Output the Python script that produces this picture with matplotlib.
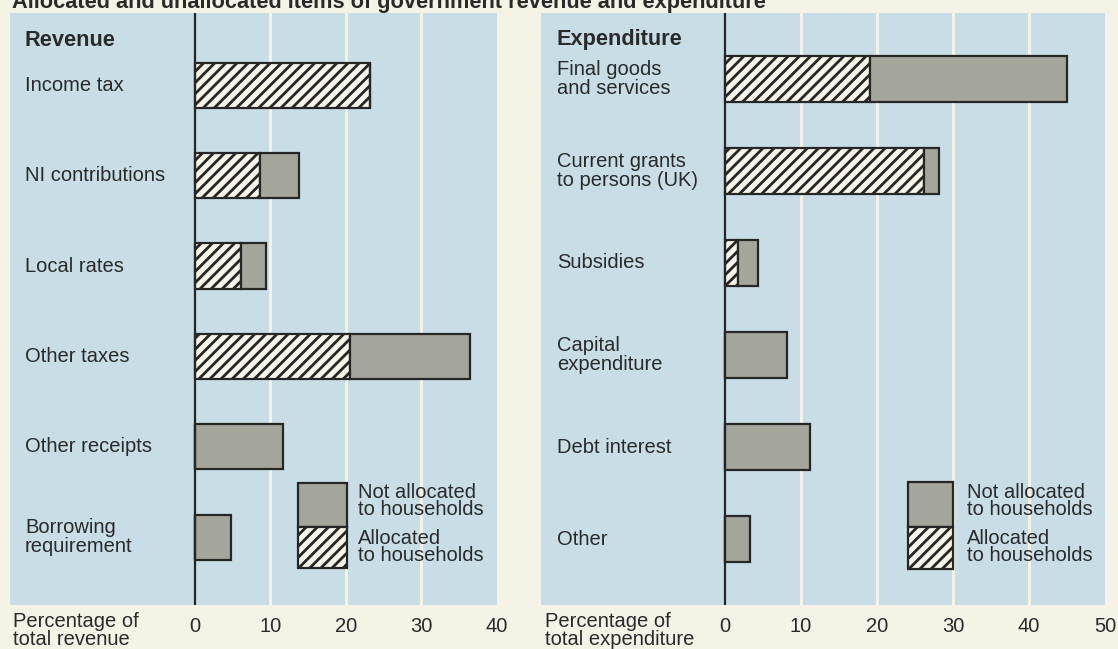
import matplotlib
matplotlib.use("Agg")
import matplotlib.pyplot as plt
from matplotlib.patches import Rectangle
import matplotlib.transforms as mtransforms

plt.rcParams['font.family'] = ['Liberation Sans', 'DejaVu Sans']
plt.rcParams['hatch.linewidth'] = 2.0
plt.rcParams['hatch.color'] = '#262626'

# ---------------- data ----------------
rev_categories = ["Income tax", "NI contributions", "Local rates", "Other taxes",
                  "Other receipts", "Borrowing\nrequirement"]
rev_allocated = [23.2, 8.6, 6.1, 20.5, 0.0, 0.0]
rev_not_allocated = [0.0, 5.2, 3.3, 15.9, 11.7, 4.8]
rev_ticks = [0, 10, 20, 30, 40]

exp_categories = ["Final goods\nand services", "Current grants\nto persons (UK)", "Subsidies",
                  "Capital\nexpenditure", "Debt interest", "Other"]
exp_allocated = [19.1, 26.2, 1.7, 0.0, 0.0, 0.0]
exp_not_allocated = [25.9, 2.0, 2.6, 8.2, 11.2, 3.3]
exp_ticks = [0, 10, 20, 30, 40, 50]

title = "Allocated and unallocated items of government revenue and expenditure"

# ---------------- style ----------------
PAGE = '#f5f2e6'
BLUE = '#c8dde6'
GREY = '#a4a69b'
HATCHFILL = '#f8f5e8'
DARK = '#262626'
TXT = '#2a2a2a'
FS = 14.5
HATCH = '///'

W, H = 1118, 649
fig = plt.figure(figsize=(W / 100, H / 100), dpi=100, facecolor=PAGE)


def make_axes(px0, px1, py0, py1):
    return fig.add_axes([px0 / W, (H - py1) / H, (px1 - px0) / W, (py1 - py0) / H])


def draw_panel(ax, cats, alloc, notalloc, ticks, xlim, ylim, heading, label_px,
               xlabel, legend_px, ax_px):
    px0, px1, py0, py1 = ax_px
    ax.set_facecolor(BLUE)
    ax.set_xlim(*xlim)
    ax.set_ylim(*ylim)
    for s in ax.spines.values():
        s.set_visible(False)
    ax.set_yticks([])
    ax.set_xticks(ticks)
    ax.set_xticklabels([str(t) for t in ticks])
    ax.tick_params(axis='x', length=0, pad=9, labelsize=FS, labelcolor=TXT)
    # white separators between blue blocks
    for t in ticks[1:]:
        if t < xlim[1] - 0.5:
            ax.axvline(t, color=PAGE, lw=2.2, zorder=1)
    ax.axvline(0, color=DARK, lw=1.6, zorder=4)

    ypos = list(range(len(cats)))
    ax.barh(ypos, alloc, height=0.5, color=HATCHFILL, edgecolor=DARK, hatch=HATCH,
            linewidth=1.6, zorder=3)
    ax.barh(ypos, notalloc, left=alloc, height=0.5, color=GREY, edgecolor=DARK,
            linewidth=1.6, zorder=3)

    def fx(px):
        return (px - px0) / (px1 - px0)

    def fy(py):
        return (py1 - py) / (py1 - py0)

    tr = mtransforms.blended_transform_factory(ax.transAxes, ax.transData)
    for y, c in zip(ypos, cats):
        ax.text(fx(label_px), y, c, transform=tr, ha='left', va='center',
                fontsize=FS, color=TXT, linespacing=1.0)
    ax.text(fx(label_px), fy(40), heading, transform=ax.transAxes, ha='left',
            va='center', fontsize=FS + 1.2, fontweight='bold', color=TXT)

    # legend
    lx0, lx1, ly0, lmid, ly1, tx = legend_px
    ax.add_patch(Rectangle((fx(lx0), fy(lmid)), fx(lx1) - fx(lx0), fy(ly0) - fy(lmid),
                           transform=ax.transAxes, facecolor=GREY, edgecolor=DARK,
                           lw=1.6, zorder=5))
    ax.add_patch(Rectangle((fx(lx0), fy(ly1)), fx(lx1) - fx(lx0), fy(lmid) - fy(ly1),
                           transform=ax.transAxes, facecolor=HATCHFILL, edgecolor=DARK,
                           hatch=HATCH, lw=1.6, zorder=5))
    ax.text(fx(tx), fy(501), "Not allocated\nto households",
            transform=ax.transAxes, ha='left', va='center', fontsize=FS, color=TXT,
            linespacing=0.93)
    ax.text(fx(tx), fy(547), "Allocated\nto households",
            transform=ax.transAxes, ha='left', va='center', fontsize=FS, color=TXT,
            linespacing=0.93)

    fig.text(xlabel[0] / W, 1 - 612 / H, xlabel[1], ha='left', va='top',
             fontsize=FS, color=TXT, linespacing=0.95)


# left panel
L = (10, 497, 13, 605)
axL = make_axes(*L)
draw_panel(axL, rev_categories, rev_allocated, rev_not_allocated, rev_ticks,
           (-24.5, 40.0), (5.75, -0.80), "Revenue", 25,
           (13, "Percentage of\ntotal revenue"),
           (298, 347, 483, 527, 568, 358), L)

# right panel
R = (541, 1105, 13, 605)
axR = make_axes(*R)
draw_panel(axR, exp_categories, exp_allocated, exp_not_allocated, exp_ticks,
           (-24.2, 50.0), (5.717, -0.717), "Expenditure", 557,
           (545, "Percentage of\ntotal expenditure"),
           (908, 953, 482, 527, 569, 967), R)

fig.text(12 / W, 1 - 8 / H, title, ha='left', va='baseline', fontsize=FS + 1.2,
         fontweight='bold', color=TXT)

fig.savefig("out.png", dpi=100, facecolor=PAGE)
